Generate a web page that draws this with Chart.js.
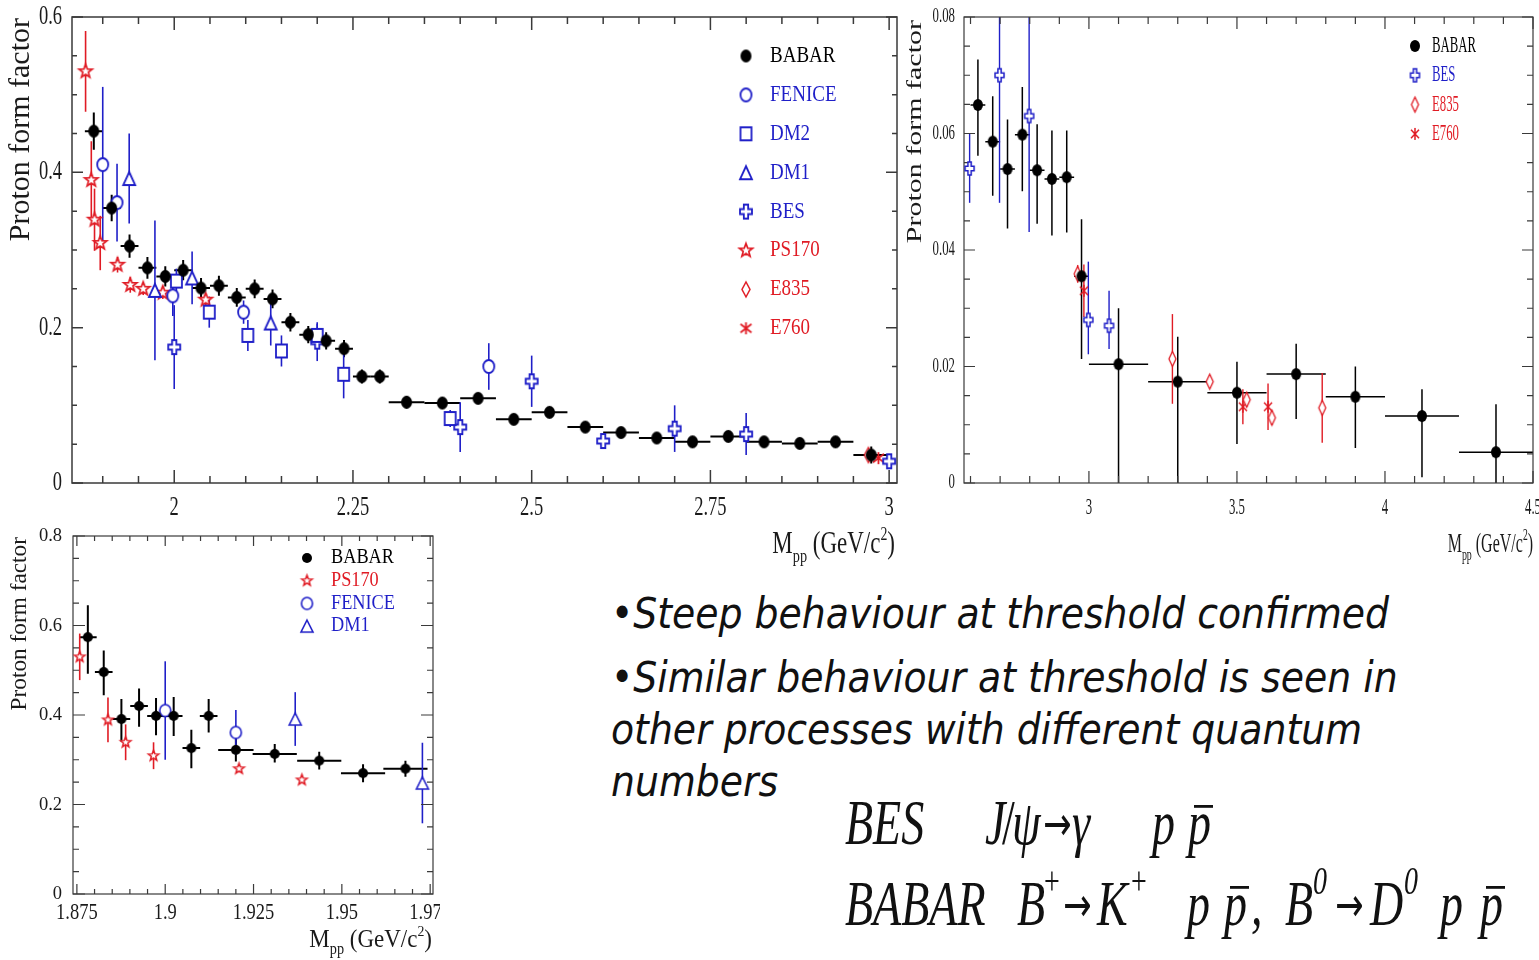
<!DOCTYPE html>
<html>
<head>
<meta charset="utf-8">
<script src="https://cdn.jsdelivr.net/npm/chart.js@4.4.1/dist/chart.umd.min.js"></script>
<style>
html, body { margin: 0; padding: 0; background: #fff; }
body { width: 1539px; height: 960px; position: relative; overflow: hidden; }
.box { position: absolute; }
.bul { position: absolute; left: 611px; font-family: 'DejaVu Sans'; font-style: italic; font-stretch: condensed;
       font-size: 42px; line-height: 42px; white-space: nowrap; color: #111; }
.fx { position: absolute; left: 0; width: 1539px; height: 50px; transform: scaleY(1.4); transform-origin: 0 0;
      font-family: 'Liberation Serif'; font-style: italic; font-size: 46px; line-height: 46px; color: #111; }
.fx span { position: absolute; top: 0; white-space: nowrap; }
.fx .up { font-style: normal; }
.fx .arr { font-family: 'DejaVu Sans'; font-style: normal; font-size: 34px; }
.fx .sup { font-size: 28px; top: -16px; }
.fx .bar::after { content: ''; position: absolute; left: 6px; width: 19px; top: 10px; height: 0; border-top: 2px solid #111; }
</style>
</head>
<body>

<div class="box" style="left:0;top:0"><canvas id="mainChart" width="905" height="570"></canvas></div>
<div class="box" style="left:905px;top:0"><canvas id="rightChart" width="634" height="570"></canvas></div>
<div class="box" style="left:0;top:528px"><canvas id="lowChart" width="440" height="432"></canvas></div>

<div class="bul" style="top:593px">•Steep behaviour at threshold confirmed</div>
<div class="bul" style="top:657px">•Similar behaviour at threshold is seen in</div>
<div class="bul" style="top:709px">other processes with different quantum</div>
<div class="bul" style="top:761px">numbers</div>

<div class="fx" style="top:791px">
  <span style="left:845px">BES</span>
  <span style="left:985px">J</span>
  <span class="up" style="left:1002px">/</span>
  <span style="left:1012px">ψ</span>
  <span class="arr" style="left:1043px">→</span>
  <span style="left:1072px">γ</span>
  <span style="left:1152px">p</span>
  <span class="bar" style="left:1188px">p</span>
</div>
<div class="fx" style="top:872px">
  <span style="left:845px">BABAR</span>
  <span style="left:1017px">B</span><span class="sup up" style="left:1044px">+</span>
  <span class="arr" style="left:1063px">→</span>
  <span style="left:1097px">K</span><span class="sup up" style="left:1131px">+</span>
  <span style="left:1187px">p</span><span class="bar" style="left:1224px">p</span><span style="left:1251px">,</span>
  <span style="left:1285px">B</span><span class="sup" style="left:1313px">0</span>
  <span class="arr" style="left:1335px">→</span>
  <span style="left:1370px">D</span><span class="sup" style="left:1404px">0</span>
  <span style="left:1440px">p</span><span class="bar" style="left:1480px">p</span>
</div>

<script>
// ---------- big panel: form factor 1.86 - 3.0 GeV ----------
const mainXTicks = [2, 2.25, 2.5, 2.75, 3];
const mainXLabels = ['2', '2.25', '2.5', '2.75', '3'];
const mainYTicks = [0, 0.2, 0.4, 0.6];
const mainYLabels = ['0', '0.2', '0.4', '0.6'];

const mainBabarX = [1.8875, 1.9125, 1.9375, 1.9625, 1.9875, 2.0125, 2.0375, 2.0625, 2.0875, 2.1125, 2.1375, 2.1625,
    2.1875, 2.2125, 2.2375, 2.2625, 2.2875, 2.325, 2.375, 2.425, 2.475, 2.525, 2.575, 2.625, 2.675, 2.725, 2.775,
    2.825, 2.875, 2.925, 2.975];
const mainBabarY = [0.453, 0.354, 0.305, 0.277, 0.266, 0.274, 0.251, 0.254, 0.239, 0.250, 0.237, 0.207, 0.191,
    0.183, 0.173, 0.137, 0.137, 0.104, 0.103, 0.109, 0.082, 0.091, 0.072, 0.065, 0.058, 0.053, 0.060, 0.053, 0.051,
    0.053, 0.036];
const mainBabarErr = [0.024, 0.017, 0.015, 0.014, 0.013, 0.013, 0.013, 0.013, 0.012, 0.012, 0.012, 0.012, 0.011,
    0.011, 0.011, 0.009, 0.009, 0.008, 0.007, 0.007, 0.005, 0.005, 0.005, 0.005, 0.005, 0.005, 0.006, 0.005, 0.005,
    0.005, 0.011];
const mainBabarBin = [0.0125, 0.0125, 0.0125, 0.0125, 0.0125, 0.0125, 0.0125, 0.0125, 0.0125, 0.0125, 0.0125,
    0.0125, 0.0125, 0.0125, 0.0125, 0.0125, 0.0125, 0.025, 0.025, 0.025, 0.025, 0.025, 0.025, 0.025, 0.025, 0.025,
    0.025, 0.025, 0.025, 0.025, 0.025];

const mainFeniceX = [1.90, 1.92, 1.998, 2.097, 2.44];
const mainFeniceY = [0.41, 0.361, 0.241, 0.22, 0.150];
const mainFeniceErr = [0.10, 0.05, 0.026, 0.015, 0.03];

const mainDm2X = [2.003, 2.049, 2.103, 2.15, 2.20, 2.237, 2.386];
const mainDm2Y = [0.26, 0.22, 0.19, 0.17, 0.19, 0.14, 0.083];
const mainDm2Err = [0.016, 0.02, 0.02, 0.02, 0.015, 0.031, 0.011];

const mainDm1X = [1.937, 1.973, 2.025, 2.135];
const mainDm1Y = [0.392, 0.248, 0.264, 0.206];
const mainDm1Err = [0.058, 0.09, 0.034, 0.029];

const mainBesX = [2.0, 2.2, 2.4, 2.5, 2.6, 2.7, 2.8, 3.0];
const mainBesY = [0.175, 0.182, 0.072, 0.131, 0.054, 0.070, 0.063, 0.028];
const mainBesErr = [0.054, 0.025, 0.032, 0.033, 0.005, 0.03, 0.027, 0.005];

const mainPs170X = [1.876, 1.884, 1.8885, 1.8965, 1.9207, 1.9385, 1.9566, 1.984, 2.044];
const mainPs170Y = [0.530, 0.390, 0.339, 0.309, 0.281, 0.255, 0.250, 0.245, 0.236];
const mainPs170Err = [0.052, 0.05, 0.04, 0.035, 0.01, 0.01, 0.008, 0.008, 0.008];

const mainE835X = [2.971];
const mainE835Y = [0.036];
const mainE835Err = [0.003];
const mainE760X = [2.985];
const mainE760Y = [0.032];
const mainE760Err = [0.002];

// ---------- right panel: 2.6 - 4.5 GeV ----------
const rightXTicks = [3, 3.5, 4, 4.5];
const rightXLabels = ['3', '3.5', '4', '4.5'];
const rightYTicks = [0, 0.02, 0.04, 0.06, 0.08];
const rightYLabels = ['0', '0.02', '0.04', '0.06', '0.08'];

const rightBabarX = [2.625, 2.675, 2.725, 2.775, 2.825, 2.875, 2.925, 2.975, 3.1, 3.3, 3.5, 3.7, 3.9, 4.125, 4.375];
const rightBabarY = [0.0649, 0.0586, 0.0539, 0.0598, 0.0537, 0.0522, 0.0525, 0.0355, 0.0204, 0.0174, 0.0155,
    0.0187, 0.0148, 0.0115, 0.0053];
const rightBabarHi = [0.0078, 0.0078, 0.0085, 0.0082, 0.0079, 0.0083, 0.008, 0.0098, 0.0096, 0.0077, 0.0053,
    0.0052, 0.0052, 0.0046, 0.0082];
const rightBabarLo = [0.0087, 0.0093, 0.0102, 0.0097, 0.0092, 0.0097, 0.0095, 0.0142, 0.0204, 0.0174, 0.0088,
    0.0077, 0.0088, 0.0105, 0.0053];
const rightBabarBin = [0.025, 0.025, 0.025, 0.025, 0.025, 0.025, 0.025, 0.025, 0.1, 0.1, 0.1, 0.1, 0.1, 0.125, 0.125];

const rightBesX = [2.597, 2.698, 2.798, 2.998, 3.068];
const rightBesY = [0.054, 0.070, 0.063, 0.028, 0.027];
const rightBesHi = [0.006, 0.022, 0.02, 0.010, 0.006];
const rightBesLo = [0.0059, 0.0219, 0.0199, 0.0059, 0.004];

const rightE835X = [2.962, 3.282, 3.408, 3.533, 3.618, 3.788];
const rightE835Y = [0.0359, 0.0213, 0.0174, 0.0143, 0.0112, 0.0129];
const rightE835Err = [0.0015, 0.0077, 0.001, 0.0012, 0.0012, 0.006];

const rightE760X = [2.983, 3.52, 3.605];
const rightE760Y = [0.033, 0.0131, 0.0131];
const rightE760Err = [0.0045, 0.003, 0.004];

// ---------- small panel: threshold region ----------
const lowXTicks = [1.875, 1.9, 1.925, 1.95, 1.975];
const lowXLabels = ['1.875', '1.9', '1.925', '1.95', '1.975'];
const lowYTicks = [0, 0.2, 0.4, 0.6, 0.8];
const lowYLabels = ['0', '0.2', '0.4', '0.6', '0.8'];

const lowBabarX = [1.8781, 1.8826, 1.8876, 1.8926, 1.8974, 1.9024, 1.9074, 1.9123, 1.92, 1.931, 1.9436, 1.956, 1.968];
const lowBabarY = [0.574, 0.496, 0.391, 0.420, 0.398, 0.398, 0.326, 0.398, 0.322, 0.313, 0.298, 0.270, 0.280];
const lowBabarHi = [0.071, 0.048, 0.045, 0.039, 0.04, 0.042, 0.041, 0.0375, 0.026, 0.022, 0.02, 0.02, 0.018];
const lowBabarLo = [0.082, 0.052, 0.05, 0.046, 0.043, 0.045, 0.045, 0.037, 0.026, 0.019, 0.02, 0.02, 0.018];
const lowBabarBin = [0.0025, 0.0025, 0.0025, 0.0025, 0.0025, 0.0025, 0.0025, 0.0025, 0.005, 0.00625, 0.00625,
    0.00625, 0.00625];

const lowPs170X = [1.8758, 1.8838, 1.8888, 1.8967, 1.9209, 1.9387];
const lowPs170Y = [0.530, 0.389, 0.339, 0.309, 0.280, 0.255];
const lowPs170Err = [0.052, 0.05, 0.04, 0.03, 0.008, 0.006];

const lowFeniceX = [1.9, 1.92];
const lowFeniceY = [0.41, 0.361];
const lowFeniceErr = [0.11, 0.05];

const lowDm1X = [1.9368, 1.9728];
const lowDm1Y = [0.391, 0.248];
const lowDm1Err = [0.06, 0.09];

const BLACK = '#000000';
const BLUE = '#1f1fc8';
const RED = '#e01b24';

// marker pictures used as pointStyle (ROOT-like open symbols)
function marker(kind, w, h, color, lw) {
    const pad = Math.ceil(lw) + 2;
    const c = document.createElement('canvas');
    c.width = Math.ceil(w) + pad * 2;
    c.height = Math.ceil(h) + pad * 2;
    const g = c.getContext('2d');
    const cx = c.width / 2, cy = c.height / 2, a = w / 2, b = h / 2;
    g.strokeStyle = color;
    g.fillStyle = '#fff';
    g.lineWidth = lw;
    g.beginPath();
    if (kind === 'dot') {
        g.fillStyle = color;
        g.ellipse(cx, cy, a, b, 0, 0, Math.PI * 2);
        g.fill();
        return c;
    }
    if (kind === 'aster') {
        g.moveTo(cx, cy - b); g.lineTo(cx, cy + b);
        g.moveTo(cx - a, cy - b * 0.7); g.lineTo(cx + a, cy + b * 0.7);
        g.moveTo(cx - a, cy + b * 0.7); g.lineTo(cx + a, cy - b * 0.7);
        g.stroke();
        return c;
    }
    let pts = [];
    if (kind === 'circle') {
        g.ellipse(cx, cy, a, b, 0, 0, Math.PI * 2);
    } else if (kind === 'square') {
        g.rect(cx - a, cy - b, w, h);
    } else {
        if (kind === 'tri') pts = [[0, -b], [a, b], [-a, b]];
        if (kind === 'diamond') pts = [[0, -b], [a, 0], [0, b], [-a, 0]];
        if (kind === 'plus') {
            const t = a * 0.36, u = b * 0.36;
            pts = [[-t, -b], [t, -b], [t, -u], [a, -u], [a, u], [t, u], [t, b], [-t, b], [-t, u], [-a, u], [-a, -u], [-t, -u]];
        }
        if (kind === 'star') {
            for (let k = 0; k < 10; k++) {
                const r = k % 2 ? 0.42 : 1;
                const ang = -Math.PI / 2 + k * Math.PI / 5;
                pts.push([a * r * Math.cos(ang), b * r * Math.sin(ang)]);
            }
        }
        pts.forEach((p, i) => i ? g.lineTo(cx + p[0], cy + p[1]) : g.moveTo(cx + p[0], cy + p[1]));
        g.closePath();
    }
    g.fill();
    g.stroke();
    return c;
}

function series(label, xs, ys, lo, hi, bins, style, color, width) {
    return {
        label: label,
        data: xs.map((v, i) => ({ x: v, y: ys[i] })),
        pointStyle: style,
        pointRadius: 5,
        pointHoverRadius: 5,
        errLo: lo,
        errHi: hi || lo,
        xErr: bins,
        barColor: color,
        barWidth: width,
        textColor: color
    };
}

function txt(ctx, s, x, y, size, o) {
    o = o || {};
    ctx.save();
    ctx.translate(x, y);
    if (o.rot) ctx.rotate(o.rot);
    ctx.scale(o.sx || 1, o.sy || 1);
    ctx.font = size + 'px "Liberation Serif", "Times New Roman", serif';
    ctx.fillStyle = o.color || '#1a1a1a';
    ctx.textAlign = o.align || 'left';
    ctx.textBaseline = o.base || 'middle';
    ctx.fillText(s, 0, 0);
    ctx.restore();
}

// "M_pp (GeV/c^2)" with sub- and superscript, right aligned
function massTitle(ctx, right, base, size, sy) {
    const f = s => s + 'px "Liberation Serif", serif';
    ctx.save();
    ctx.font = f(size);
    const wM = ctx.measureText('M').width;
    const wG = ctx.measureText(' (GeV/c').width;
    const wP = ctx.measureText(')').width;
    ctx.font = f(size * 0.62);
    const wS = ctx.measureText('pp').width;
    ctx.font = f(size * 0.6);
    const w2 = ctx.measureText('2').width;
    ctx.translate(right - (wM + wS + wG + w2 + wP), base);
    ctx.scale(1, sy);
    ctx.fillStyle = '#1a1a1a';
    ctx.textAlign = 'left';
    ctx.textBaseline = 'alphabetic';
    let x = 0;
    ctx.font = f(size); ctx.fillText('M', x, 0); x += wM;
    ctx.font = f(size * 0.62); ctx.fillText('pp', x, size * 0.28); x += wS;
    ctx.font = f(size); ctx.fillText(' (GeV/c', x, 0); x += wG;
    ctx.font = f(size * 0.6); ctx.fillText('2', x, -size * 0.42); x += w2;
    ctx.font = f(size); ctx.fillText(')', x, 0);
    ctx.restore();
}

const errorBars = {
    id: 'errorBars',
    beforeDatasetsDraw(chart) {
        const { ctx, chartArea: a, scales: { x, y } } = chart;
        ctx.save();
        ctx.beginPath();
        ctx.rect(a.left, a.top, a.width, a.height);
        ctx.clip();
        chart.data.datasets.forEach(ds => {
            ctx.strokeStyle = ds.barColor;
            ctx.lineWidth = ds.barWidth;
            ds.data.forEach((p, i) => {
                const px = x.getPixelForValue(p.x), py = y.getPixelForValue(p.y);
                ctx.beginPath();
                ctx.moveTo(px, y.getPixelForValue(p.y - ds.errLo[i]));
                ctx.lineTo(px, y.getPixelForValue(p.y + ds.errHi[i]));
                if (ds.xErr) {
                    ctx.moveTo(x.getPixelForValue(p.x - ds.xErr[i]), py);
                    ctx.lineTo(x.getPixelForValue(p.x + ds.xErr[i]), py);
                }
                ctx.stroke();
            });
        });
        ctx.restore();
    }
};

// frame with inside ticks on all four sides, labels, titles and legend
const rootFrame = {
    id: 'rootFrame',
    beforeDatasetsDraw(chart, args, o) {
        const { ctx, chartArea: a, scales: { x, y } } = chart;
        const near = (v, list) => list.some(m => Math.abs(m - v) < 1e-6);
        ctx.save();
        ctx.strokeStyle = o.frameColor;
        ctx.lineWidth = o.frameWidth;
        ctx.strokeRect(a.left, a.top, a.width, a.height);
        ctx.beginPath();
        for (let k = Math.ceil(x.min / o.xMinor - 1e-6); k * o.xMinor <= x.max + 1e-9; k++) {
            const v = k * o.xMinor, px = x.getPixelForValue(v);
            const len = near(v, o.xTicks) ? o.xTickLen[0] : o.xTickLen[1];
            ctx.moveTo(px, a.bottom); ctx.lineTo(px, a.bottom - len);
            ctx.moveTo(px, a.top); ctx.lineTo(px, a.top + len);
        }
        for (let k = Math.ceil(y.min / o.yMinor - 1e-6); k * o.yMinor <= y.max + 1e-9; k++) {
            const v = k * o.yMinor, py = y.getPixelForValue(v);
            const len = near(v, o.yTicks) ? o.yTickLen[0] : o.yTickLen[1];
            ctx.moveTo(a.left, py); ctx.lineTo(a.left + len, py);
            ctx.moveTo(a.right, py); ctx.lineTo(a.right - len, py);
        }
        ctx.stroke();
        ctx.restore();
    },
    afterDraw(chart, args, o) {
        const { ctx, chartArea: a, scales: { x, y } } = chart;
        o.xTicks.forEach((v, i) => txt(ctx, o.xLabels[i], x.getPixelForValue(v), a.bottom + o.xLabOff, o.tickSize,
            { align: 'center', sy: o.xTickSy }));
        o.yTicks.forEach((v, i) => txt(ctx, o.yLabels[i], a.left - o.yLabOff, y.getPixelForValue(v), o.tickSize,
            { align: 'right', sy: o.yTickSy }));
        txt(ctx, 'Proton form factor', o.yTitle.x, a.top + o.yTitle.dy, o.yTitle.size,
            { rot: -Math.PI / 2, align: 'right', sy: o.yTitle.sy });
        massTitle(ctx, a.right + o.xTitle.dx, a.bottom + o.xTitle.dy, o.xTitle.size, o.xTitle.sy);
        const L = o.legend;
        chart.data.datasets.forEach((ds, i) => {
            const yy = L.y0 + i * L.dy;
            ctx.drawImage(ds.pointStyle, L.mx - ds.pointStyle.width / 2, yy - ds.pointStyle.height / 2);
            txt(ctx, ds.label, L.tx, yy, L.size, { sy: L.sy, color: ds.textColor });
        });
    }
};

function makeChart(id, datasets, xMin, xMax, yMin, yMax, pad, frame) {
    return new Chart(document.getElementById(id), {
        type: 'scatter',
        data: { datasets: datasets },
        options: {
            responsive: false,
            animation: false,
            devicePixelRatio: 1,
            events: [],
            layout: { padding: pad },
            scales: {
                x: { type: 'linear', min: xMin, max: xMax, display: false },
                y: { type: 'linear', min: yMin, max: yMax, display: false }
            },
            plugins: { legend: { display: false }, tooltip: { enabled: false }, rootFrame: frame }
        },
        plugins: [errorBars, rootFrame]
    });
}

// big panel
makeChart('mainChart', [
    series('BABAR', mainBabarX, mainBabarY, mainBabarErr, null, mainBabarBin, marker('dot', 11, 13, BLACK, 1), BLACK, 2),
    series('FENICE', mainFeniceX, mainFeniceY, mainFeniceErr, null, null, marker('circle', 11, 13, BLUE, 1.8), BLUE, 1.6),
    series('DM2', mainDm2X, mainDm2Y, mainDm2Err, null, null, marker('square', 11, 13, BLUE, 1.8), BLUE, 1.6),
    series('DM1', mainDm1X, mainDm1Y, mainDm1Err, null, null, marker('tri', 12, 13, BLUE, 1.8), BLUE, 1.6),
    series('BES', mainBesX, mainBesY, mainBesErr, null, null, marker('plus', 12, 14, BLUE, 1.8), BLUE, 1.6),
    series('PS170', mainPs170X, mainPs170Y, mainPs170Err, null, null, marker('star', 14, 14, RED, 1.7), RED, 1.6),
    series('E835', mainE835X, mainE835Y, mainE835Err, null, null, marker('diamond', 8, 15, RED, 1.5), RED, 1.6),
    series('E760', mainE760X, mainE760Y, mainE760Err, null, null, marker('aster', 11, 12, RED, 1.8), RED, 1.6)
], 1.857, 3.011, 0, 0.6, { left: 72, top: 17, right: 8, bottom: 87 }, {
    xTicks: mainXTicks, xLabels: mainXLabels, yTicks: mainYTicks, yLabels: mainYLabels,
    xMinor: 0.05, yMinor: 0.05, xTickLen: [13, 7], yTickLen: [11, 5],
    frameColor: '#3a3a3a', frameWidth: 1.5,
    tickSize: 18.5, xTickSy: 1.42, yTickSy: 1.42, xLabOff: 25, yLabOff: 10,
    yTitle: { x: 21, dy: 1, size: 30, sy: 1 },
    xTitle: { dx: -2, dy: 70, size: 23, sy: 1.38 },
    legend: { mx: 746, tx: 770, y0: 56, dy: 38.9, size: 19, sy: 1.2 }
});

// right panel
makeChart('rightChart', [
    series('BABAR', rightBabarX, rightBabarY, rightBabarLo, rightBabarHi, rightBabarBin, marker('dot', 10, 12, BLACK, 1), BLACK, 1.5),
    series('BES', rightBesX, rightBesY, rightBesLo, rightBesHi, null, marker('plus', 9, 13, BLUE, 1.5), BLUE, 1.4),
    series('E835', rightE835X, rightE835Y, rightE835Err, null, null, marker('diamond', 7, 15, RED, 1.3), RED, 1.4),
    series('E760', rightE760X, rightE760Y, rightE760Err, null, null, marker('aster', 8, 12, RED, 1.5), RED, 1.4)
], 2.578, 4.5, 0, 0.08, { left: 59, top: 17, right: 5, bottom: 87 }, {
    xTicks: rightXTicks, xLabels: rightXLabels, yTicks: rightYTicks, yLabels: rightYLabels,
    xMinor: 0.1, yMinor: 0.005, xTickLen: [12, 7], yTickLen: [11, 6],
    frameColor: '#3a3a3a', frameWidth: 1.2,
    tickSize: 12.8, xTickSy: 1.85, yTickSy: 1.6, xLabOff: 25, yLabOff: 9,
    yTitle: { x: 11, dy: 3, size: 30, sy: 0.68 },
    xTitle: { dx: 0, dy: 69, size: 16, sy: 1.75 },
    legend: { mx: 510, tx: 527, y0: 46, dy: 29.3, size: 12.8, sy: 1.8 }
});

// threshold panel
makeChart('lowChart', [
    series('BABAR', lowBabarX, lowBabarY, lowBabarLo, lowBabarHi, lowBabarBin, marker('dot', 10, 10, BLACK, 1), BLACK, 2),
    series('PS170', lowPs170X, lowPs170Y, lowPs170Err, null, null, marker('star', 11, 11, RED, 1.5), RED, 1.6),
    series('FENICE', lowFeniceX, lowFeniceY, lowFeniceErr, null, null, marker('circle', 11, 12, BLUE, 1.6), BLUE, 1.6),
    series('DM1', lowDm1X, lowDm1Y, lowDm1Err, null, null, marker('tri', 12, 12, BLUE, 1.6), BLUE, 1.6)
], 1.8739, 1.9758, 0, 0.8, { left: 73, top: 8, right: 7, bottom: 66 }, {
    xTicks: lowXTicks, xLabels: lowXLabels, yTicks: lowYTicks, yLabels: lowYLabels,
    xMinor: 0.005, yMinor: 0.05, xTickLen: [10, 5], yTickLen: [12, 6],
    frameColor: '#3a3a3a', frameWidth: 1.2,
    tickSize: 18.5, xTickSy: 1.2, yTickSy: 1.05, xLabOff: 19, yLabOff: 11,
    yTitle: { x: 20, dy: 1, size: 23.3, sy: 1 },
    xTitle: { dx: -1, dy: 53, size: 23, sy: 1.1 },
    legend: { mx: 307, tx: 331, y0: 30, dy: 22.7, size: 18.3, sy: 1.1 }
});
</script>
</body>
</html>
